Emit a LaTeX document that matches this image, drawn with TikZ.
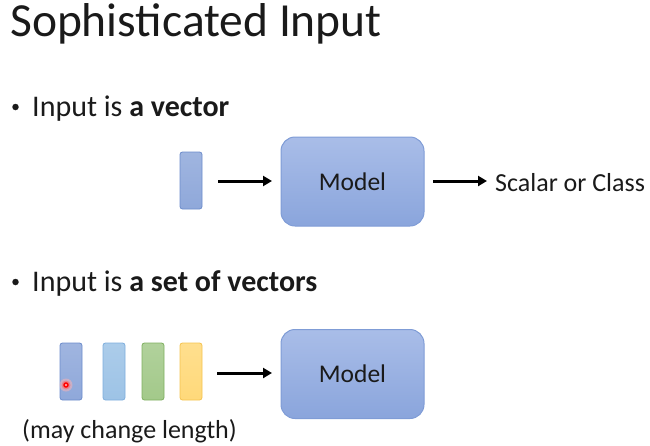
\documentclass[tikz,border=0pt]{standalone}
\usepackage{fontspec}
\setmainfont{Carlito}
\usetikzlibrary{arrows.meta,shadings}
\definecolor{mtop}{HTML}{A9BDE8}
\definecolor{mbot}{HTML}{8AA5DC}
\definecolor{mbord}{HTML}{7F9CD6}
\definecolor{vblue}{HTML}{8FA8DA}
\definecolor{vbluebd}{HTML}{6C8CCB}
\definecolor{vlblue}{HTML}{9DC3E6}
\definecolor{vlbluebd}{HTML}{7EAEDD}
\definecolor{vgreen}{HTML}{A3C98A}
\definecolor{vgreenbd}{HTML}{7FB060}
\definecolor{vyellow}{HTML}{FFD97A}
\definecolor{vyellowbd}{HTML}{F5C350}
\definecolor{txtc}{HTML}{1A1A1A}
\tikzset{
  model/.style={draw=mbord, line width=1pt, rounded corners=14pt, top color=mtop, bottom color=mbot,
    minimum width=143pt, minimum height=89pt, font=\fontsize{25.5}{30}\selectfont, text=txtc, inner sep=0pt},
  vec/.style={rounded corners=2.5pt, line width=0.8pt, minimum width=22pt, minimum height=57pt, inner sep=0pt},
  arr/.style={-{Triangle[length=9pt,width=10pt]}, line width=3pt, shorten >=0pt},
  txt/.style={font=\fontsize{30}{34}\selectfont, anchor=base west, inner sep=0pt, text=txtc},
  bul/.style={circle, fill=txtc, inner sep=0pt, minimum size=6.5pt},
}
\begin{document}
\begin{tikzpicture}[x=1pt,y=-1pt]
\useasboundingbox (0,0) rectangle (650,445);
\node[anchor=base west, inner sep=0pt, font=\fontsize{47.5}{54}\selectfont, text=txtc] (title) at (10,36) {Sophisticated Input};
\node[bul] (d1) at (15.5,107) {};
\node[txt] (b1) at (32,116) {Input is \textbf{a vector}};
\node[vec, draw=vbluebd, top color=vblue!85!white, bottom color=vblue] (v0) at (191,180.5) {};
\node[model] (m1) at (352.5,181.5) {Model};
\coordinate (a1s) at (218,181);
\coordinate (a1e) at (272,181);
\draw[arr] (a1s) -- (a1e);
\coordinate (a2s) at (433,181);
\coordinate (a2e) at (487,181);
\draw[arr] (a2s) -- (a2e);
\node[anchor=base west, inner sep=0pt, font=\fontsize{26}{30}\selectfont, text=txtc] (out) at (495,191) {Scalar or Class};
\node[bul] (d2) at (15.5,282) {};
\node[txt] (b2) at (32,291) {Input is \textbf{a set of vectors}};
\node[vec, draw=vbluebd, top color=vblue!85!white, bottom color=vblue] (w1) at (71,371.5) {};
\node[vec, draw=vlbluebd, top color=vlblue!85!white, bottom color=vlblue] (w2) at (114,371.5) {};
\node[vec, draw=vgreenbd, top color=vgreen!85!white, bottom color=vgreen] (w3) at (153,371.5) {};
\node[vec, draw=vyellowbd, top color=vyellow!85!white, bottom color=vyellow] (w4) at (191,371.5) {};
\fill[red!30, opacity=0.5] (66,385) circle (6.5pt);
\fill[red!60, opacity=0.6] (66,385) circle (4.5pt);
\fill[red] (66,385) circle (2.8pt);
\fill[white!75!red] (66,385) circle (1.1pt);
\node[model] (m2) at (352.5,374) {Model};
\coordinate (a3s) at (217,373);
\coordinate (a3e) at (272,373);
\draw[arr] (a3s) -- (a3e);
\node[anchor=base west, inner sep=0pt, font=\fontsize{26}{30}\selectfont, text=txtc] (cap) at (22,438) {(may change length)};
\end{tikzpicture}
\end{document}
